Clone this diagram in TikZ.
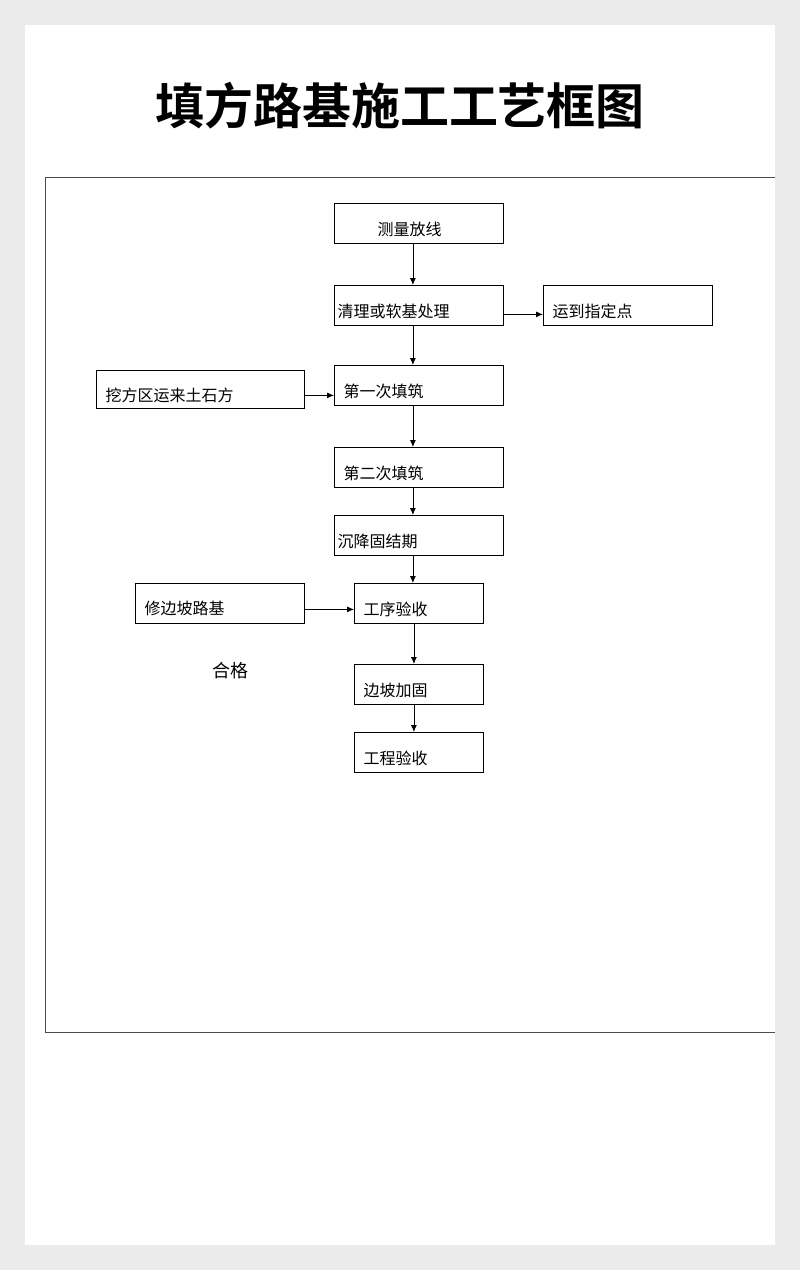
\documentclass[tikz,border=0pt]{standalone}
\usepackage{fontspec}
\newfontfamily\cjk{Noto Sans CJK SC}
\newfontfamily\cjkb{Noto Sans CJK SC Bold}
\usetikzlibrary{arrows.meta}
\begin{document}
\begin{tikzpicture}[x=1pt,y=-1pt,
  box/.style={draw,thick,anchor=north west,minimum height=40pt,inner sep=0pt,text depth=0pt,align=left},
  lab/.style={anchor=west,yshift=-6pt,font=\cjk\fontsize{16}{18}\selectfont},
  arr/.style={-{Latex[length=7pt,width=6pt]},thick}]
\useasboundingbox (0,0) rectangle (800,1270);
\fill[black!8] (0,0) rectangle (800,1270);
\fill[white] (25,25) rectangle (775,1245);
\node[font=\cjkb\fontsize{49}{52}\selectfont] (title) at (400,106) {填方路基施工工艺框图};
\draw[thick,black!70] (775,177) -- (45,177) -- (45,1032) -- (775,1032);
\node[box,minimum width=169pt] (a) at (334,203) {};
\node[lab] at (a.west) {\hspace{40pt}测量放线};
\node[box,minimum width=169pt] (b) at (334,285) {};
\node[lab] at (b.west) {清理或软基处理};
\node[box,minimum width=169pt] (c) at (543,285) {};
\node[lab] at (c.west) {\hspace{6pt}运到指定点};
\node[box,minimum width=208pt,minimum height=38pt] (d) at (96,370) {};
\node[lab] at (d.west) {\hspace{6pt}挖方区运来土石方};
\node[box,minimum width=169pt] (e) at (334,365) {};
\node[lab] at (e.west) {\hspace{6pt}第一次填筑};
\node[box,minimum width=169pt] (f) at (334,447) {};
\node[lab] at (f.west) {\hspace{6pt}第二次填筑};
\node[box,minimum width=169pt] (g) at (334,515) {};
\node[lab] at (g.west) {沉降固结期};
\node[box,minimum width=169pt] (h) at (135,583) {};
\node[lab,yshift=1pt] at (h.west) {\hspace{6pt}修边坡路基};
\node[box,minimum width=129pt] (i) at (354,583) {};
\node[lab] at (i.west) {\hspace{6pt}工序验收};
\node[font=\cjk\fontsize{18}{20}\selectfont] (ok) at (230,671) {合格};
\node[box,minimum width=129pt] (j) at (354,664) {};
\node[lab] at (j.west) {\hspace{6pt}边坡加固};
\node[box,minimum width=129pt] (k) at (354,732) {};
\node[lab] at (k.west) {\hspace{6pt}工程验收};
\draw[arr] ([xshift=-6pt]a.south) -- ([xshift=-6pt]b.north);
\draw[arr] ([xshift=-6pt]b.south) -- ([xshift=-6pt]e.north);
\draw[arr] ([xshift=-6pt]e.south) -- ([xshift=-6pt]f.north);
\draw[arr] ([xshift=-6pt]f.south) -- ([xshift=-6pt]g.north);
\draw[arr] ([xshift=-6pt]g.south) -- ([xshift=-6pt]g.south |- i.north);
\draw[arr] ([xshift=-5pt]i.south) -- ([xshift=-5pt]j.north);
\draw[arr] ([xshift=-5pt]j.south) -- ([xshift=-5pt]k.north);
\draw[arr] ([yshift=-9pt]b.east) -- ([yshift=-9pt]b.east -| c.west);
\draw[arr] ([yshift=-6pt]d.east) -- ([yshift=-6pt]d.east -| e.west);
\draw[arr] ([yshift=-6pt]h.east) -- ([yshift=-6pt]h.east -| i.west);
\end{tikzpicture}
\end{document}
